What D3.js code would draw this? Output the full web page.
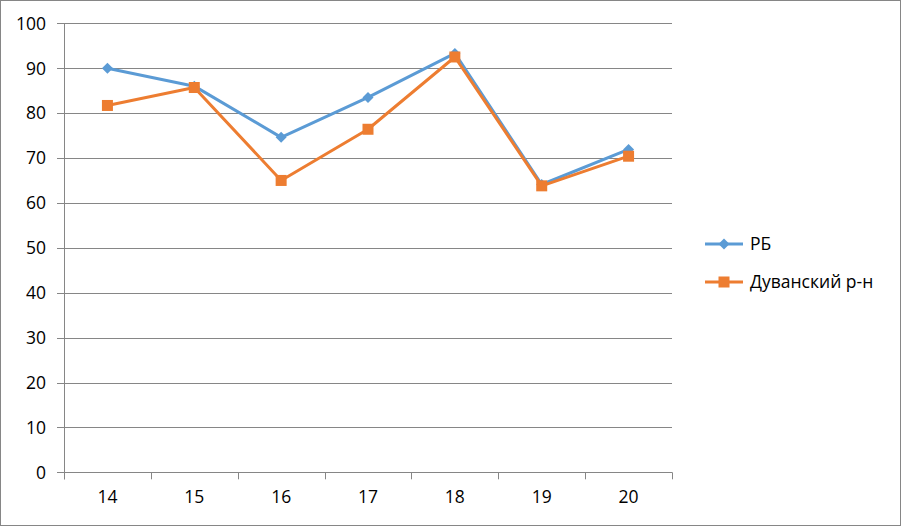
<!DOCTYPE html>
<html><head><meta charset="utf-8">
<script src="https://cdn.jsdelivr.net/npm/d3@7"></script>
<style>body{margin:0;background:#fff}svg{display:block}</style>
</head><body><svg id="c" width="901" height="526"></svg>
<script>
const categories = ["14","15","16","17","18","19","20"];
const rbValues = [90, 86, 74.6, 83.5, 93.3, 64.1, 71.9];
const duvValues = [81.7, 85.7, 65.0, 76.4, 92.5, 63.8, 70.4];
const seriesNames = ["РБ", "Дуванский р-н"];
const yTicks = [0,10,20,30,40,50,60,70,80,90,100];

const svg = d3.select("#c");
const font = "'Open Sans', sans-serif";
const fs = 17.5;
const gridColor = "#868686";
svg.append("rect").attr("x",0.5).attr("y",0.5).attr("width",900).attr("height",525)
  .attr("fill","#fff").attr("stroke","#868686");

const x = d3.scaleBand().domain(categories).range([64,672]);
const y = d3.scaleLinear().domain([0,100]).range([472.3,23.3]);

// grid
svg.append("g").selectAll("line").data(yTicks).join("line")
  .attr("x1",57).attr("x2",672).attr("y1",d=>Math.round(y(d))+0.5).attr("y2",d=>Math.round(y(d))+0.5)
  .attr("stroke",gridColor).attr("stroke-width",1);
// y axis line
svg.append("line").attr("x1",64.5).attr("x2",64.5).attr("y1",y(100)).attr("y2",y(0)+7)
  .attr("stroke",gridColor);
// x ticks
const xt = categories.map(c=>x(c)).concat([672]);
svg.append("g").selectAll("line").data(xt).join("line")
  .attr("x1",d=>Math.round(d)+0.5).attr("x2",d=>Math.round(d)+0.5)
  .attr("y1",y(0)).attr("y2",y(0)+7).attr("stroke",gridColor);
// y labels
svg.append("g").selectAll("text").data(yTicks).join("text")
  .attr("x",46).attr("y",d=>y(d)).attr("dy","0.36em").attr("text-anchor","end")
  .attr("font-family",font).attr("font-size",fs).attr("fill","#000").text(d=>d);
// x labels
svg.append("g").selectAll("text").data(categories).join("text")
  .attr("x",d=>x(d)+x.bandwidth()/2).attr("y",503).attr("text-anchor","middle")
  .attr("font-family",font).attr("font-size",fs).attr("fill","#000").text(d=>d);

const cx = d=>x(d)+x.bandwidth()/2;
const line = d3.line().x((d,i)=>cx(categories[i])).y(d=>y(d));
const colors = ["#5B9BD5","#ED7D31"];
const diamond = (g,px,py,c)=>g.append("path").attr("d",`M${px},${py-5.5}L${px+5.5},${py}L${px},${py+5.5}L${px-5.5},${py}Z`).attr("fill",c);
const square = (g,px,py,c)=>g.append("rect").attr("x",px-5.5).attr("y",py-5.5).attr("width",11).attr("height",11).attr("fill",c);

[rbValues, duvValues].forEach((vals,si)=>{
  const g = svg.append("g");
  g.append("path").attr("d",line(vals)).attr("fill","none").attr("stroke",colors[si])
    .attr("stroke-width",3).attr("stroke-linejoin","round");
  vals.forEach((v,i)=>{
    (si===0?diamond:square)(g,cx(categories[i]),y(v),colors[si]);
  });
});

// legend
const legY = [244, 282];
seriesNames.forEach((n,i)=>{
  const g = svg.append("g");
  g.append("line").attr("x1",705).attr("x2",743).attr("y1",legY[i]).attr("y2",legY[i])
    .attr("stroke",colors[i]).attr("stroke-width",3);
  (i===0?diamond:square)(g,724,legY[i],colors[i]);
  g.append("text").attr("x",750).attr("y",legY[i]).attr("dy","0.36em")
    .attr("font-family",font).attr("font-size",fs).attr("fill","#000").text(n);
});
</script></body></html>
